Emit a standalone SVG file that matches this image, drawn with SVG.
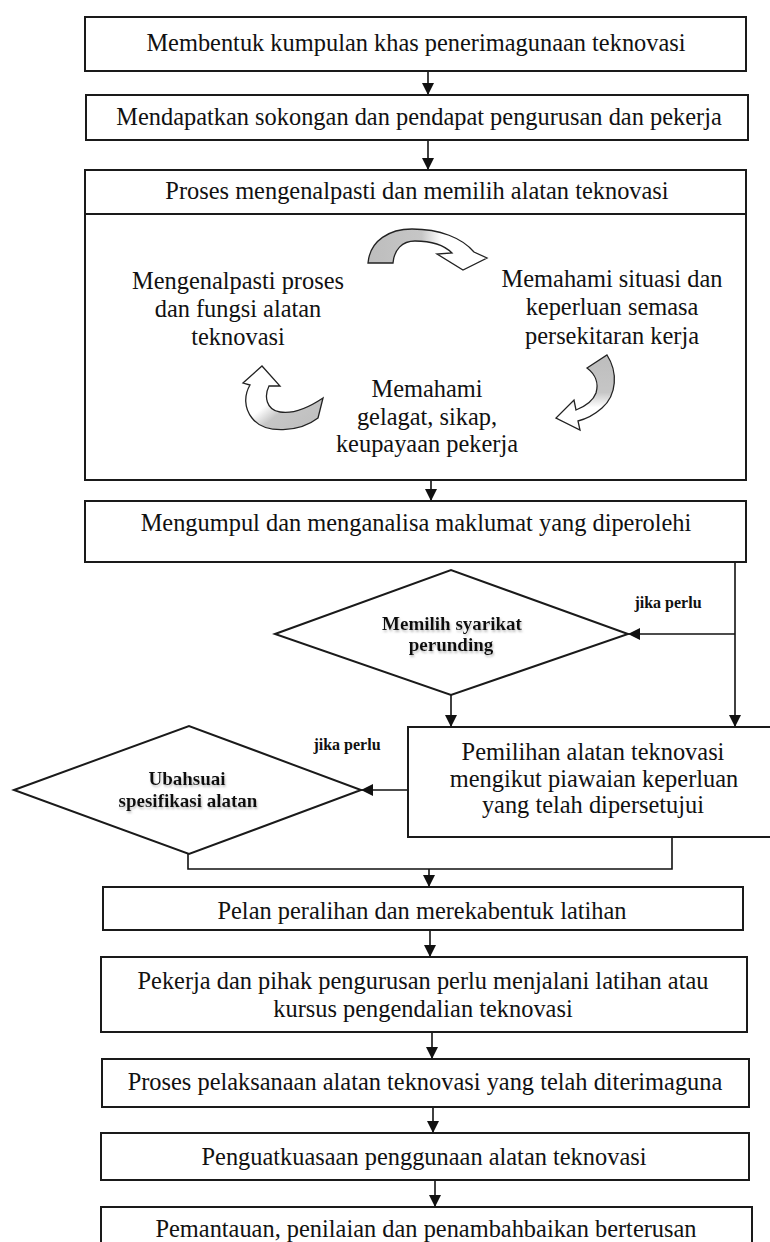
<svg xmlns="http://www.w3.org/2000/svg" width="770" height="1242" viewBox="0 0 770 1242">
<style>
.box{fill:#fff;stroke:#1a1a1a;stroke-width:2}
.t{font-family:"Liberation Serif","Times New Roman",serif;font-size:24.4px;fill:#111;text-anchor:middle}
.d{font-family:"Liberation Serif","Times New Roman",serif;font-size:19px;font-weight:bold;fill:#111;text-anchor:middle}
.j{font-family:"Liberation Serif","Times New Roman",serif;font-size:16px;font-weight:bold;fill:#111;text-anchor:middle}
.c{fill:none;stroke:#111;stroke-width:1.6}
.ca{fill:none;stroke:#111;stroke-width:1.6;marker-end:url(#ah)}
.cyc{stroke:#222;stroke-width:1.3}
</style>
<defs>
<marker id="ah" markerUnits="userSpaceOnUse" markerWidth="12" markerHeight="12" viewBox="0 0 12 12" refX="12" refY="6" orient="auto">
<path d="M0,0 L12,6 L0,12 z" fill="#111"/>
</marker>
<linearGradient id="gTop" x1="0" y1="0" x2="1" y2="0">
<stop offset="0" stop-color="#bdbdbd"/><stop offset="0.45" stop-color="#c6c6c6"/><stop offset="0.62" stop-color="#fff"/>
</linearGradient>
<linearGradient id="gRight" x1="0" y1="0" x2="0" y2="1">
<stop offset="0" stop-color="#bdbdbd"/><stop offset="0.5" stop-color="#c6c6c6"/><stop offset="0.7" stop-color="#fff"/>
</linearGradient>
<linearGradient id="gLeft" x1="1" y1="1" x2="0" y2="0">
<stop offset="0" stop-color="#bdbdbd"/><stop offset="0.4" stop-color="#c6c6c6"/><stop offset="0.55" stop-color="#fff"/>
</linearGradient>
<filter id="sh" x="-10%" y="-30%" width="120%" height="160%">
<feGaussianBlur in="SourceAlpha" stdDeviation="1.2"/>
<feOffset dx="1" dy="1.5" result="b"/>
<feFlood flood-color="#999" flood-opacity="0.6"/>
<feComposite in2="b" operator="in"/>
<feMerge><feMergeNode/><feMergeNode in="SourceGraphic"/></feMerge>
</filter>
</defs>
<rect width="770" height="1242" fill="#fff"/>

<g id="connectors">
<line class="ca" x1="428" y1="71" x2="428" y2="95"/>
<line class="ca" x1="428" y1="140" x2="428" y2="170"/>
<line class="ca" x1="431" y1="480" x2="431" y2="501"/>
<line class="ca" x1="735" y1="562" x2="735" y2="727"/>
<line class="ca" x1="735" y1="634" x2="628" y2="634"/>
<line class="ca" x1="451" y1="695" x2="451" y2="727"/>
<line class="ca" x1="408" y1="790" x2="361" y2="790"/>
<polyline class="c" points="188,854 188,869 672,869 672,837"/>
<line class="ca" x1="429" y1="869" x2="429" y2="887"/>
<line class="ca" x1="430" y1="930" x2="430" y2="957"/>
<line class="ca" x1="432" y1="1032" x2="432" y2="1059"/>
<line class="ca" x1="433" y1="1107" x2="433" y2="1133"/>
<line class="ca" x1="435" y1="1180" x2="435" y2="1207"/>
<text class="j" x="668" y="608">jika perlu</text>
<text class="j" x="347" y="750">jika perlu</text>
</g>

<g id="n1"><rect class="box" x="85" y="17" width="661" height="54"/>
<text class="t" x="416" y="51">Membentuk kumpulan khas penerimagunaan teknovasi</text></g>

<g id="n2"><rect class="box" x="86" y="95" width="662" height="45"/>
<text class="t" x="419" y="125">Mendapatkan sokongan dan pendapat pengurusan dan pekerja</text></g>

<g id="n3"><rect class="box" x="85" y="170" width="661" height="44"/>
<text class="t" x="417" y="199">Proses mengenalpasti dan memilih alatan teknovasi</text></g>

<g id="n3b"><rect class="box" x="85" y="214" width="661" height="266"/>
<path class="cyc" fill="url(#gTop)" d="M368,263 C370,240 390,229 412,229 C440,229 462,238 474,252 L487,258 L463,270 L437,254 L452,253 C444,245 430,241 415,241 C402,241 394,250 393,263 Z"/>
<path class="cyc" fill="url(#gRight)" d="M587,368 L607,355 C618,372 617,395 602,408 C594,415 586,419 578,421 L580,430 L556,418 L574,400 L576,410 C586,406 593,401 596,393 C599,383 595,374 587,368 Z"/>
<path class="cyc" fill="url(#gLeft)" d="M323,398 L318,418 C300,432 265,435 252,418 C244,408 244,395 250,385 L243,383 L262,366 L280,386 L269,386 C264,396 266,410 280,412 C292,414 308,408 323,398 Z"/>
<text class="t" x="238" y="289">Mengenalpasti proses</text>
<text class="t" x="238" y="317">dan fungsi alatan</text>
<text class="t" x="238" y="345">teknovasi</text>
<text class="t" x="612" y="287">Memahami situasi dan</text>
<text class="t" x="612" y="315">keperluan semasa</text>
<text class="t" x="612" y="344">persekitaran kerja</text>
<text class="t" x="427" y="397">Memahami</text>
<text class="t" x="427" y="425">gelagat, sikap,</text>
<text class="t" x="427" y="452">keupayaan pekerja</text></g>

<g id="n4"><rect class="box" x="85" y="501" width="661" height="61"/>
<text class="t" x="416" y="531">Mengumpul dan menganalisa maklumat yang diperolehi</text></g>

<g id="d1"><polygon class="box" points="275,634 451,570 628,634 451,695"/>
<text class="d" x="452" y="630" filter="url(#sh)">Memilih syarikat</text>
<text class="d" x="451" y="651" filter="url(#sh)">perunding</text></g>

<g id="n5"><rect class="box" x="408" y="727" width="370" height="110"/>
<text class="t" x="593" y="760">Pemilihan alatan teknovasi</text>
<text class="t" x="594" y="787">mengikut piawaian keperluan</text>
<text class="t" x="593" y="813">yang telah dipersetujui</text></g>

<g id="d2"><polygon class="box" points="14,790 189,726 361,790 189,854"/>
<text class="d" x="187" y="785" filter="url(#sh)">Ubahsuai</text>
<text class="d" x="188" y="807" filter="url(#sh)">spesifikasi alatan</text></g>

<g id="n6"><rect class="box" x="103" y="887" width="640" height="43"/>
<text class="t" x="422" y="919">Pelan peralihan dan merekabentuk latihan</text></g>

<g id="n7"><rect class="box" x="101" y="957" width="646" height="75"/>
<text class="t" x="423" y="989">Pekerja dan pihak pengurusan perlu menjalani latihan atau</text>
<text class="t" x="423" y="1017">kursus pengendalian teknovasi</text></g>

<g id="n8"><rect class="box" x="102" y="1059" width="647" height="48"/>
<text class="t" x="425" y="1090">Proses pelaksanaan alatan teknovasi yang telah diterimaguna</text></g>

<g id="n9"><rect class="box" x="101" y="1133" width="648" height="47"/>
<text class="t" x="424" y="1165">Penguatkuasaan penggunaan alatan teknovasi</text></g>

<g id="n10"><rect class="box" x="101" y="1207" width="651" height="60"/>
<text class="t" x="426" y="1237">Pemantauan, penilaian dan penambahbaikan berterusan</text></g>
</svg>
